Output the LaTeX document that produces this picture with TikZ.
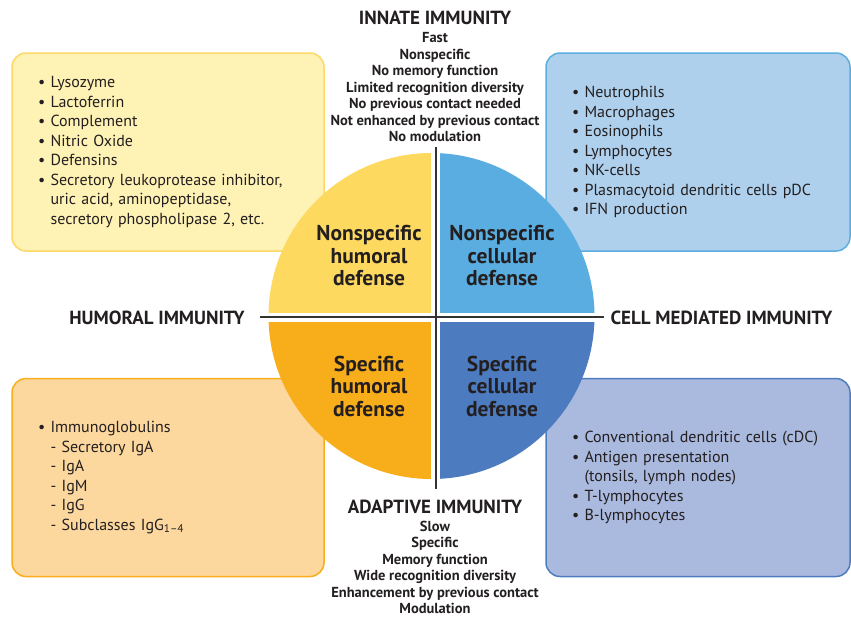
\documentclass[tikz,border=0pt]{standalone}
\usepackage{fontspec}
\setmainfont{PT Sans}
\usetikzlibrary{positioning}
\definecolor{ylwfill}{HTML}{FFF2B5}
\definecolor{ylwline}{HTML}{FDD866}
\definecolor{ylwquad}{HTML}{FDD95F}
\definecolor{orgfill}{HTML}{FDD89E}
\definecolor{orgline}{HTML}{F8AE1D}
\definecolor{orgquad}{HTML}{F8AD1A}
\definecolor{skyfill}{HTML}{AED0EC}
\definecolor{skyline}{HTML}{5BAEE0}
\definecolor{skyquad}{HTML}{5AADE0}
\definecolor{navfill}{HTML}{AAB9DE}
\definecolor{navline}{HTML}{4E7CC0}
\definecolor{navquad}{HTML}{4D7BBF}
\definecolor{txt}{HTML}{231F20}
\tikzset{
  listbox/.style={
    rectangle,
    rounded corners=14pt,
    line width=1.5pt,
    text width=#1,
    minimum height=198pt,
    inner xsep=26pt,
    align=left,
    text=txt,
    font=\fontsize{16}{19.5}\selectfont},
  headline/.style={inner sep=0pt, text=txt, font=\bfseries\fontsize{19}{22}\selectfont},
  traits/.style={inner sep=0pt, align=center, text=txt, font=\bfseries\fontsize{14.5}{16.5}\selectfont},
  quadlabel/.style={inner sep=0pt, align=center, text=txt, font=\bfseries\fontsize{21.5}{22.5}\selectfont},
  cross/.style={line width=2pt, draw=black!80},
}
\newcommand{\hang}{\hphantom{\textbullet\ }}

\begin{document}
\begin{tikzpicture}[x=1pt, y=-1pt]
     \useasboundingbox (0,0) rectangle (851,619);
     % side boxes
     \node[listbox=260pt, fill=ylwfill, draw=ylwline] (NonspecHumBox) at (168,152)
       {\textbullet\ Lysozyme\\
        \textbullet\ Lactoferrin\\
        \textbullet\ Complement\\
        \textbullet\ Nitric Oxide\\
        \textbullet\ Defensins\\
        \textbullet\ Secretory leukoprotease inhibitor,\\
        \hang uric acid, aminopeptidase,\\
        \hang secretory phospholipase 2, etc.};
     \node[listbox=252pt, fill=skyfill, draw=skyline] (NonspecCelBox) at (698,152)
       {\textbullet\ Neutrophils\\
        \textbullet\ Macrophages\\
        \textbullet\ Eosinophils\\
        \textbullet\ Lymphocytes\\
        \textbullet\ NK-cells\\
        \textbullet\ Plasmacytoid dendritic cells pDC\\
        \textbullet\ IFN production};
     \node[listbox=260pt, fill=orgfill, draw=orgline] (SpecHumBox) at (168,477.5)
       {\textbullet\ Immunoglobulins\\
        \hang - Secretory IgA\\
        \hang - IgA\\
        \hang - IgM\\
        \hang - IgG\\
        \hang - Subclasses IgG\textsubscript{1--4}};
     \node[listbox=252pt, fill=navfill, draw=navline] (SpecCelBox) at (698,477.5)
       {\textbullet\ Conventional dendritic cells (cDC)\\
        \textbullet\ Antigen presentation\\
        \hang (tonsils, lymph nodes)\\
        \textbullet\ T-lymphocytes\\
        \textbullet\ B-lymphocytes};
     % the disc, cut in four
     \coordinate (ctr) at (431.5,316);
     \begin{scope}
       \clip (ctr) circle (163);
       \fill[ylwquad] (250,140) rectangle (431,313.3);
       \fill[skyquad] (440,140) rectangle (610,313.3);
       \fill[orgquad] (250,321.7) rectangle (431,495);
       \fill[navquad] (440,321.7) rectangle (610,495);
     \end{scope}
     \coordinate (crossN) at (436,146.7);
     \coordinate (crossS) at (436,489);
     \coordinate (crossW) at (260,317.3);
     \coordinate (crossE) at (604,317.3);
     \draw[cross] (crossN) -- (crossS);
     \draw[cross] (crossW) -- (crossE);
     \node[quadlabel] (NonspecHum) at (369,256) {Nonspecific\\humoral\\defense};
     \node[quadlabel] (NonspecCel) at (502,256) {Nonspecific\\cellular\\defense};
     \node[quadlabel] (SpecHum)    at (369,386) {Specific\\humoral\\defense};
     \node[quadlabel] (SpecCel)    at (502,386) {Specific\\cellular\\defense};
     % axis titles
     \node[headline] (Innate)   at (435,18)  {INNATE IMMUNITY};
     \node[traits]   (InnateT)  at (435,87.5)
       {Fast\\Nonspecific\\No memory function\\Limited recognition diversity\\No previous contact needed\\Not enhanced by previous contact\\No modulation};
     \node[headline] (Adaptive) at (435,507) {ADAPTIVE IMMUNITY};
     \node[traits]   (AdaptiveT) at (435,567.5)
       {Slow\\Specific\\Memory function\\Wide recognition diversity\\Enhancement by previous contact\\Modulation};
     \node[headline] (Humoral)  at (157,318) {HUMORAL IMMUNITY};
     \node[headline] (CellMed)  at (721.5,318) {CELL MEDIATED IMMUNITY};
\end{tikzpicture}
\end{document}
